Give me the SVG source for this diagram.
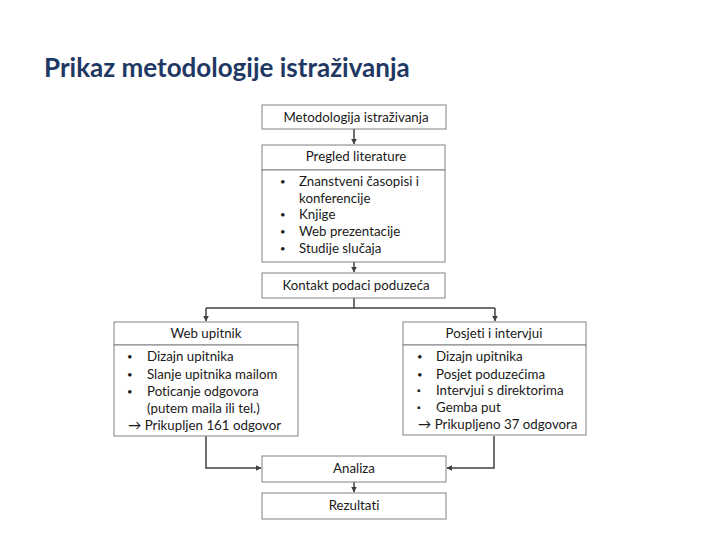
<svg xmlns="http://www.w3.org/2000/svg" width="720" height="540" viewBox="0 0 720 540">
<defs>
<style>
.box{fill:#fff;stroke:#808080;stroke-width:1}
.t{font-family:Lato,"Liberation Sans",sans-serif;font-size:13.3px;fill:#1a1a1a;font-variant-ligatures:none}
.b{font-size:9.5px}
.c{text-anchor:middle}
.ttl{font-family:Lato,"Liberation Sans",sans-serif;font-size:26px;font-weight:bold;fill:#1f3864}
.con{fill:none;stroke:#404040;stroke-width:1.5}
</style>
<marker id="ah" viewBox="0 0 10 10" refX="9" refY="5" markerWidth="4" markerHeight="4" orient="auto">
<path d="M0,0 L10,5 L0,10 z" fill="#404040"/>
</marker>
</defs>
<rect width="720" height="540" fill="#fff"/>
<text class="ttl" x="44" y="77">Prikaz metodologije istraživanja</text>

<g id="connectors">
<path class="con" d="M354,129 V144" marker-end="url(#ah)"/>
<path class="con" d="M354,262 V272" marker-end="url(#ah)"/>
<path class="con" d="M354,298 V308 M206,308 H495"/>
<path class="con" d="M206,308 V321" marker-end="url(#ah)"/>
<path class="con" d="M495,308 V321" marker-end="url(#ah)"/>
<path class="con" d="M206,436 V468 H261" marker-end="url(#ah)"/>
<path class="con" d="M494,436 V468 H447" marker-end="url(#ah)"/>
<path class="con" d="M354,482 V492" marker-end="url(#ah)"/>
</g>

<g id="metodologija">
<rect class="box" x="262" y="105" width="184" height="24"/>
<text class="t c" x="356" y="122">Metodologija istraživanja</text>
</g>

<g id="pregled">
<rect class="box" x="262" y="145" width="183" height="25"/>
<rect class="box" x="262" y="170" width="183" height="92"/>
<text class="t c" x="356" y="161">Pregled literature</text>
<text class="t b" x="280" y="185">•</text><text class="t" x="299" y="186">Znanstveni časopisi i</text>
<text class="t" x="299" y="203">konferencije</text>
<text class="t b" x="280" y="218">•</text><text class="t" x="299" y="219">Knjige</text>
<text class="t b" x="280" y="235">•</text><text class="t" x="299" y="236">Web prezentacije</text>
<text class="t b" x="280" y="252">•</text><text class="t" x="299" y="253">Studije slučaja</text>
</g>

<g id="kontakt">
<rect class="box" x="262" y="273" width="183" height="25"/>
<text class="t c" x="356" y="290">Kontakt podaci poduzeća</text>
</g>

<g id="web">
<rect class="box" x="114" y="322" width="184" height="23"/>
<rect class="box" x="114" y="345" width="184" height="91"/>
<text class="t c" x="206" y="338">Web upitnik</text>
<text class="t b" x="127" y="360">•</text><text class="t" x="147" y="361">Dizajn upitnika</text>
<text class="t b" x="127" y="378">•</text><text class="t" x="147" y="379">Slanje upitnika mailom</text>
<text class="t b" x="127" y="395">•</text><text class="t" x="147" y="396">Poticanje odgovora</text>
<text class="t" x="147" y="413">(putem maila ili tel.)</text>
<text class="t" x="128" y="430">→ Prikupljen 161 odgovor</text>
</g>

<g id="posjeti">
<rect class="box" x="403" y="322" width="183" height="23"/>
<rect class="box" x="403" y="345" width="183" height="90"/>
<text class="t c" x="494" y="338">Posjeti i intervjui</text>
<text class="t b" x="417" y="360">•</text><text class="t" x="436" y="361">Dizajn upitnika</text>
<text class="t b" x="417" y="378">•</text><text class="t" x="436" y="379">Posjet poduzećima</text>
<text class="t b" x="417" y="394">▪</text><text class="t" x="436" y="395">Intervjui s direktorima</text>
<text class="t b" x="417" y="411">▪</text><text class="t" x="436" y="412">Gemba put</text>
<text class="t" x="418" y="429">→ Prikupljeno 37 odgovora</text>
</g>

<g id="analiza">
<rect class="box" x="262" y="456" width="184" height="26"/>
<text class="t c" x="354" y="473">Analiza</text>
</g>

<g id="rezultati">
<rect class="box" x="262" y="493" width="184" height="26"/>
<text class="t c" x="354" y="510">Rezultati</text>
</g>
</svg>
